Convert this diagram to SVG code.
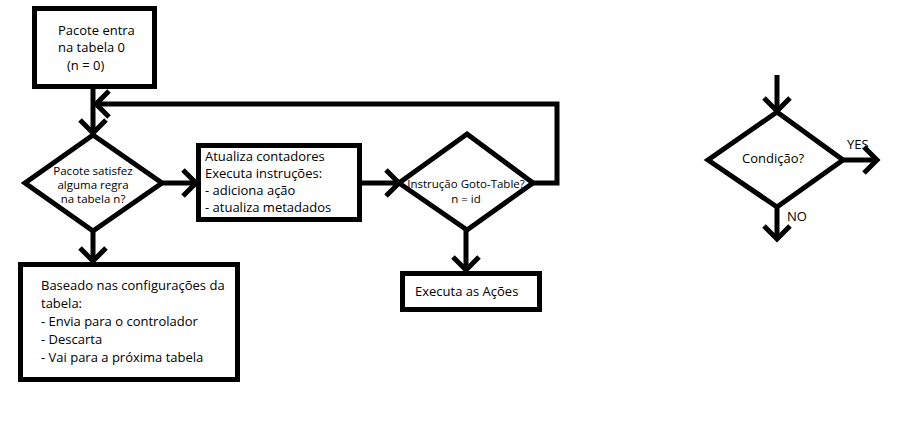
<svg xmlns="http://www.w3.org/2000/svg" width="924" height="423" viewBox="0 0 924 423">
<style>
.box{fill:#fff;stroke:#000;stroke-width:5}
.dia{fill:#fff;stroke:#000;stroke-width:5;stroke-linejoin:miter}
.ln{fill:none;stroke:#000;stroke-width:5}
.t{font-family:"Open Sans","DejaVu Sans",sans-serif;font-size:13px;fill:#000}
.s{font-family:"Open Sans","DejaVu Sans",sans-serif;font-size:11.5px;fill:#000}
</style>
<defs>
<marker id="arr" markerUnits="userSpaceOnUse" viewBox="-16 -16 20 32" refX="0" refY="0" markerWidth="20" markerHeight="32" orient="auto" overflow="visible">
<path d="M-13,-13 L0,0 L-13,13" fill="none" stroke="#000" stroke-width="5"/>
</marker>
</defs>
<rect width="924" height="423" fill="#fff"/>
<g id="connectors">
<path class="ln" d="M93,86 L93,133" marker-end="url(#arr)"/>
<path class="ln" d="M533,183 L557,183 L557,104 L96,104" marker-end="url(#arr)"/>
<path class="ln" d="M163,183 L196,183" marker-end="url(#arr)"/>
<path class="ln" d="M362,183 L399,183" marker-end="url(#arr)"/>
<path class="ln" d="M93,232 L93,261" marker-end="url(#arr)"/>
<path class="ln" d="M466,230 L466,270" marker-end="url(#arr)"/>
<path class="ln" d="M777,75 L777,111" marker-end="url(#arr)"/>
<path class="ln" d="M843,160 L877,160" marker-end="url(#arr)"/>
<path class="ln" d="M777,207 L777,239" marker-end="url(#arr)"/>
</g>
<g id="start">
<rect class="box" x="34.5" y="8.5" width="120" height="78"/>
<text class="t" x="58" y="35">Pacote entra</text>
<text class="t" x="58" y="52">na tabela 0</text>
<text class="t" x="67" y="70">(n = 0)</text>
</g>
<g id="match">
<polygon class="dia" points="93,135 162,183 93,231 25,183"/>
<text class="s" x="93" y="175" text-anchor="middle">Pacote satisfez</text>
<text class="s" x="93" y="189" text-anchor="middle">alguma regra</text>
<text class="s" x="93" y="203" text-anchor="middle">na tabela n?</text>
</g>
<g id="update">
<rect class="box" x="198.5" y="145.5" width="161" height="74"/>
<text class="t" x="205" y="161">Atualiza contadores</text>
<text class="t" x="205" y="178">Executa instruções:</text>
<text class="t" x="205" y="195">- adiciona ação</text>
<text class="t" x="205" y="212">- atualiza metadados</text>
</g>
<g id="goto">
<polygon class="dia" points="467,134 533,183 467,230 399,183"/>
<text class="s" x="466" y="188" text-anchor="middle">Instrução Goto-Table?</text>
<text class="s" x="466" y="203" text-anchor="middle">n = id</text>
</g>
<g id="actions">
<rect class="box" x="402.5" y="273.5" width="137" height="36"/>
<text class="t" x="415" y="296">Executa as Ações</text>
</g>
<g id="miss">
<rect class="box" x="20.5" y="264.5" width="217" height="115"/>
<text class="t" x="41" y="290">Baseado nas configurações da</text>
<text class="t" x="41" y="308">tabela:</text>
<text class="t" x="41" y="326">- Envia para o controlador</text>
<text class="t" x="41" y="344">- Descarta</text>
<text class="t" x="41" y="362">- Vai para a próxima tabela</text>
</g>
<g id="legend">
<polygon class="dia" points="777,112 843,160 777,207 708,160"/>
<text class="t" x="742" y="163">Condição?</text>
<text class="t" x="847" y="149">YES</text>
<text class="t" x="787" y="221">NO</text>
</g>
</svg>
